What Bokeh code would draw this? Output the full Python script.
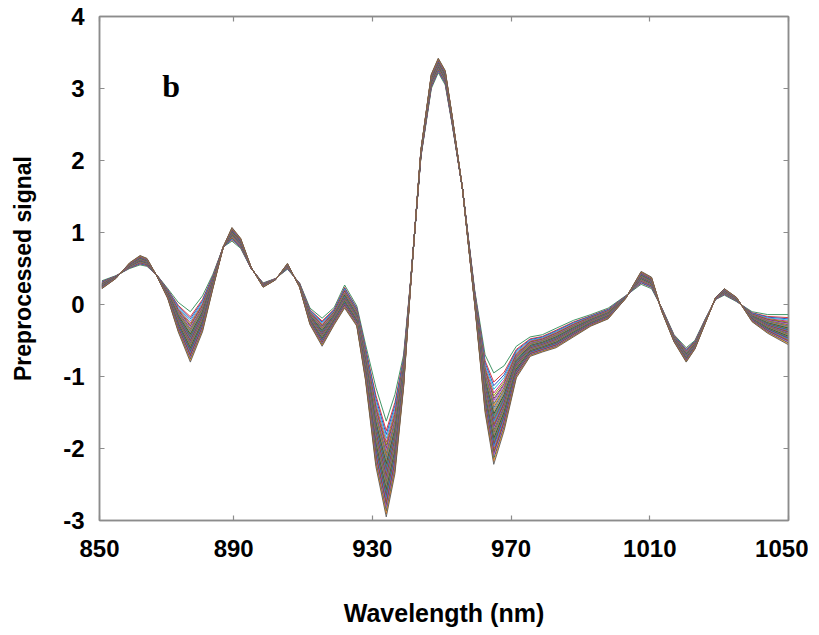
from bokeh.plotting import figure
from bokeh.models import FixedTicker, Label, ColumnDataSource, LinearAxis, Range1d
from bokeh.embed import file_html
from bokeh.resources import INLINE

# wavelength nodes (nm)
wavelength = [852, 856, 860, 863, 865, 868, 871, 874, 877.5, 881, 884, 887, 889.5,
              892, 895, 898.5, 902, 905.5, 909, 912, 915.5, 919, 922, 925.5, 928,
              931, 934, 936.5, 939, 941, 944, 947, 949, 951, 953, 956, 959.5, 962.5,
              965, 968, 971.5, 975.5, 979, 983, 988, 993, 998, 1003, 1007.5, 1010.5,
              1013.5, 1017, 1020.5, 1023, 1026, 1029, 1031.5, 1035, 1039.5, 1044, 1050]

# spectrum with the smallest band depths
shallow = [0.33, 0.40, 0.50, 0.55, 0.53, 0.40, 0.22, 0.03, -0.10, 0.12, 0.42, 0.80, 0.88,
           0.78, 0.50, 0.30, 0.36, 0.49, 0.30, -0.05, -0.19, -0.04, 0.27, -0.02, -0.55,
           -1.15, -1.62, -1.25, -0.70, 0.32, 2.05, 3.0, 3.22, 3.05, 2.50, 1.60, 0.20, -0.70,
           -0.95, -0.85, -0.58, -0.45, -0.42, -0.33, -0.22, -0.14, -0.05, 0.12, 0.28, 0.22,
           -0.05, -0.42, -0.60, -0.50, -0.20, 0.07, 0.13, 0.04, -0.10, -0.14, -0.14]

# spectrum with the largest band depths
deep = [0.22, 0.36, 0.58, 0.68, 0.64, 0.38, 0.08, -0.38, -0.80, -0.38, 0.22, 0.80, 1.07,
        0.92, 0.52, 0.24, 0.34, 0.57, 0.24, -0.28, -0.58, -0.28, -0.05, -0.30, -1.05,
        -2.25, -2.95, -2.35, -1.15, 0.25, 2.15, 3.20, 3.42, 3.25, 2.62, 1.60, 0.00, -1.50,
        -2.22, -1.75, -1.02, -0.72, -0.66, -0.60, -0.45, -0.30, -0.20, 0.08, 0.46, 0.38,
        -0.10, -0.52, -0.80, -0.62, -0.26, 0.10, 0.22, 0.10, -0.24, -0.40, -0.56]

# position of each sample spectrum between the two extremes
weights = [0.0, 0.10, 0.14, 0.18, 0.22, 0.25, 0.28, 0.30, 0.32, 0.34, 0.36, 0.38, 0.40,
           0.42, 0.44, 0.45, 0.47, 0.48, 0.50, 0.51, 0.53, 0.54, 0.56, 0.57, 0.59, 0.60,
           0.62, 0.63, 0.65, 0.66, 0.68, 0.69, 0.71, 0.72, 0.74, 0.75, 0.77, 0.78, 0.80,
           0.82, 0.84, 0.86, 0.88, 0.90, 0.92, 0.94, 0.97, 1.0]

x_ticks = [850, 890, 930, 970, 1010, 1050]
y_ticks = [-3, -2, -1, 0, 1, 2, 3, 4]

palette = ["#2e8b57", "#d62728", "#1f3fbf", "#17becf", "#c71585", "#8b8b00",
           "#6b4226", "#7b2fbe", "#e377c2", "#0f6b5a", "#ff7f0e", "#5a5a5a",
           "#4a7fd4", "#b8860b", "#9467bd", "#006400", "#b22222", "#20b2aa"]

x_start, x_end = 851.3, 1050

xs, ys, cols = [], [], []
for i, w in enumerate(weights):
    xs.append(wavelength)
    ys.append([s + w * (d - s) for s, d in zip(shallow, deep)])
    cols.append(palette[i % len(palette)])
src = ColumnDataSource(dict(xs=xs, ys=ys, color=cols))

p = figure(width=808, height=634, output_backend="svg", toolbar_location=None,
           x_range=Range1d(x_start, x_end), y_range=Range1d(-3, 4),
           min_border_left=99, min_border_top=16, min_border_right=20, min_border_bottom=114)

p.multi_line(xs="xs", ys="ys", line_color="color", line_width=1, line_alpha=0.9, source=src)

tick_pos = [max(t, x_start) for t in x_ticks]
grey = "#8c8c8c"
font = "Liberation Sans"

p.xaxis.ticker = FixedTicker(ticks=tick_pos)
p.xaxis.major_label_overrides = {tp: str(t) for tp, t in zip(tick_pos, x_ticks)}
p.yaxis.ticker = FixedTicker(ticks=y_ticks)
p.yaxis.major_label_overrides = {t: str(t) for t in y_ticks}
p.xaxis.axis_label = "Wavelength (nm)"
p.yaxis.axis_label = "Preprocessed signal"

for ax in (p.xaxis[0], p.yaxis[0]):
    ax.axis_line_color = grey
    ax.axis_line_width = 1.5
    ax.major_tick_line_color = grey
    ax.major_tick_line_width = 1.2
    ax.major_tick_in = 5
    ax.major_tick_out = 0
    ax.minor_tick_line_color = None
    ax.major_label_text_font = font
    ax.major_label_text_font_style = "bold"
    ax.major_label_text_font_size = "24px"
    ax.major_label_text_color = "black"
    ax.axis_label_text_font = font
    ax.axis_label_text_font_style = "bold"
    ax.axis_label_text_color = "black"

p.xaxis.axis_label_text_font_size = "25px"
p.yaxis.axis_label_text_font_size = "23px"
p.xaxis.major_label_standoff = 19
p.yaxis.major_label_standoff = 15
p.xaxis.axis_label_standoff = 39
p.yaxis.axis_label_standoff = 24

top = LinearAxis(ticker=FixedTicker(ticks=tick_pos))
right = LinearAxis(ticker=FixedTicker(ticks=y_ticks))
for ax in (top, right):
    ax.axis_line_color = grey
    ax.axis_line_width = 1.5
    ax.major_tick_line_color = grey
    ax.major_tick_line_width = 1.2
    ax.major_tick_in = 5
    ax.major_tick_out = 0
    ax.minor_tick_line_color = None
    ax.major_label_text_font_size = "0px"
    ax.major_label_standoff = 0
p.add_layout(top, "above")
p.add_layout(right, "right")

p.xgrid.grid_line_color = None
p.ygrid.grid_line_color = None
p.outline_line_color = grey
p.outline_line_width = 1.5

p.add_layout(Label(x=869.4, y=3.03, text="b", text_font="Liberation Serif",
                   text_font_style="bold", text_font_size="32px", text_color="black",
                   text_baseline="alphabetic"))

open("out.html", "w").write(file_html(p, INLINE))
